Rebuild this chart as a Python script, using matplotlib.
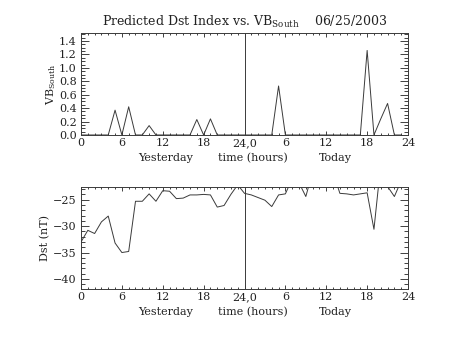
import matplotlib
matplotlib.use("Agg")
import matplotlib.pyplot as plt
from matplotlib.ticker import MultipleLocator, FixedLocator
import matplotlib.transforms as mtransforms

plt.rcParams['font.family'] = ['DejaVu Serif']
plt.rcParams['mathtext.fontset'] = 'dejavuserif'

# hours since start of yesterday (0..47)
hours = list(range(48))

vb_south = [0, 0, 0, 0, 0, 0.37, 0, 0.42, 0, 0, 0.14, 0,
            0, 0, 0, 0, 0, 0.23, 0, 0.24, 0, 0, 0, 0,
            0, 0, 0, 0, 0, 0.73, 0, 0, 0, 0, 0, 0,
            0, 0, 0, 0, 0, 0, 1.26, 0, 0.24, 0.47, 0, 0]

dst = [-33.0, -30.8, -31.4, -29.2, -28.1, -33.2, -35.0, -34.8, -25.3, -25.3, -23.9, -25.3,
       -23.3, -23.4, -24.8, -24.7, -24.1, -24.1, -24.0, -24.1, -26.4, -26.1, -24.0, -22.2,
       -23.8, -24.1, -24.6, -25.1, -26.3, -24.1, -23.9, -21.0, -21.8, -24.4, -19.7, -20.0,
       -20.0, -19.8, -23.8, -23.9, -24.1, -23.9, -23.7, -30.6, -18.3, -22.5, -24.4, -21.4]

xtick_pos = [0, 6, 12, 18, 24, 30, 36, 42, 48]
xtick_labels = ["0", "6", "12", "18", "24,0", "6", "12", "18", "24"]

ink = "#222222"
line_col = "#3a3a3a"

fig = plt.figure(figsize=(4.53, 3.4), dpi=100)
ax1 = fig.add_axes([0.1788, 0.603, 0.7219, 0.300])
ax2 = fig.add_axes([0.1788, 0.150, 0.7219, 0.300])


def style(ax, ymajor, yminor):
    ax.set_xlim(0, 48)
    ax.xaxis.set_major_locator(FixedLocator(xtick_pos))
    ax.set_xticklabels(xtick_labels)
    ax.xaxis.set_minor_locator(MultipleLocator(1))
    ax.yaxis.set_major_locator(MultipleLocator(ymajor))
    ax.yaxis.set_minor_locator(MultipleLocator(yminor))
    ax.tick_params(which='both', direction='in', top=True, right=True,
                   colors=ink, labelcolor=ink, width=0.6, labelsize=8)
    ax.tick_params(axis='y', which='major', length=6, pad=3)
    ax.tick_params(axis='y', which='minor', length=3)
    ax.tick_params(axis='x', which='major', length=3, pad=2)
    ax.tick_params(axis='x', which='minor', length=1.5)
    for s in ax.spines.values():
        s.set_color(line_col)
        s.set_linewidth(0.7)
    ax.axvline(24, color=line_col, lw=0.7)
    trans = mtransforms.blended_transform_factory(ax.transData, ax.transAxes)
    ax.text(12.4, -0.225, "Yesterday", transform=trans, ha='center', va='center',
            fontsize=8, color=ink)
    ax.text(25.3, -0.225, "time (hours)", transform=trans, ha='center', va='center',
            fontsize=8, color=ink)
    ax.text(37.3, -0.225, "Today", transform=trans, ha='center', va='center',
            fontsize=8, color=ink)


ax1.plot(hours, vb_south, color=line_col, lw=0.7, clip_on=True)
ax1.set_ylim(0, 1.52)
style(ax1, 0.2, 0.05)
ax1.yaxis.set_major_formatter(matplotlib.ticker.FormatStrFormatter('%.1f'))
ax1.set_ylabel(r"VB$_{\rm South}$", fontsize=8, color=ink, labelpad=1)
ax1.set_title(r"Predicted Dst Index vs. VB$_{\rm South}$    06/25/2003",
              fontsize=9, color=ink, pad=5)

ax2.plot(hours, dst, color=line_col, lw=0.7, clip_on=True)
ax2.set_ylim(-41.9, -22.6)
style(ax2, 5, 1)
ax2.set_ylabel("Dst (nT)", fontsize=8, color=ink, labelpad=2)

fig.savefig("out.png", dpi=100)
